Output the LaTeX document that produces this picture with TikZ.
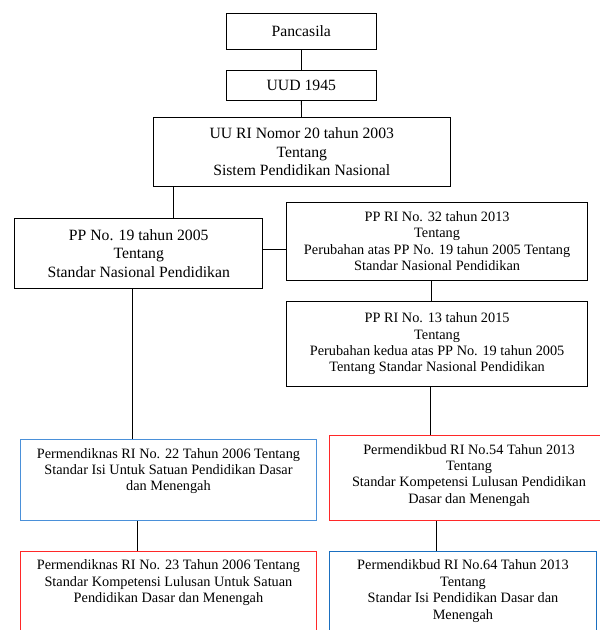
\documentclass[tikz,border=0pt]{standalone}
\usepackage{fontspec}
\setmainfont{Liberation Serif}
\usetikzlibrary{positioning}

\definecolor{kotakbiru}{RGB}{74,144,217}
\definecolor{kotakbirutua}{RGB}{26,111,192}
\definecolor{kotakmerah}{RGB}{255,40,40}

\begin{document}
\begin{tikzpicture}[x=1pt,y=-1pt,
		kotak/.style={draw,line width=0.9pt,anchor=north west,inner sep=0pt,align=center},
		besar/.style={font=\fontsize{15.7}{18.3}\selectfont},
		kecil/.style={font=\fontsize{14.3}{16.4}\selectfont},
		isi/.style={kecil,align=center,inner sep=0pt,below=9pt}]
		\useasboundingbox (0,0) rectangle (600,630);
		\clip (0,0) rectangle (600,630);
		% bagian atas
		\node[kotak,besar,minimum width=150.3,minimum height=36.6] (pancasila) at (225.7,12.7) {Pancasila};
		\node[kotak,besar,minimum width=150.3,minimum height=30] (uud) at (225.7,70) {UUD 1945};
		\node[kotak,besar,minimum width=297.3,minimum height=68.7] (uu) at (152.7,117)
			{UU RI Nomor 20 tahun 2003\\Tentang\\Sistem Pendidikan Nasional};
		\node[kotak,besar,minimum width=248,minimum height=70.6] (pp19) at (14.3,217.7)
			{PP No. 19 tahun 2005\\Tentang\\Standar Nasional Pendidikan};
		\node[kotak,kecil,minimum width=301.3,minimum height=78.3] (pp32) at (286,201.7)
			{PP RI No. 32 tahun 2013\\Tentang\\Perubahan atas PP No. 19 tahun 2005 Tentang\\Standar Nasional Pendidikan};
		\node[kotak,kecil,minimum width=301.3,minimum height=85] (pp13) at (286,301)
			{PP RI No. 13 tahun 2015\\Tentang\\Perubahan kedua atas PP No. 19 tahun 2005\\Tentang Standar Nasional Pendidikan};
		% permen
		\node[kotak,draw=kotakbiru,minimum width=296,minimum height=81] (isi06) at (20,439) {};
		\node[isi] (isi06t) at (isi06.north) {Permendiknas RI No. 22 Tahun 2006 Tentang\\Standar Isi Untuk Satuan Pendidikan Dasar\\dan Menengah};
		\node[kotak,draw=kotakmerah,minimum width=296,minimum height=110] (skl06) at (20,550.7) {};
		\node[isi] (skl06t) at (skl06.north) {Permendiknas RI No. 23 Tahun 2006 Tentang\\Standar Kompetensi Lulusan Untuk Satuan\\Pendidikan Dasar dan Menengah};
		\node[kotak,draw=kotakmerah,minimum width=290,minimum height=85] (skl13) at (329.3,435) {};
		\node[isi] (skl13t) at (skl13.north -| 469,0) {Permendikbud RI No.54 Tahun 2013\\Tentang\\Standar Kompetensi Lulusan Pendidikan\\Dasar dan Menengah};
		\node[kotak,draw=kotakbirutua,minimum width=266.4,minimum height=110] (isi13) at (329.3,550.7) {};
		\node[isi] (isi13t) at (isi13.north) {Permendikbud RI No.64 Tahun 2013\\Tentang\\Standar Isi Pendidikan Dasar dan\\Menengah};
		% garis penghubung
		\path[draw,line width=0.9pt]
		(pancasila) edge (uud)
		(uud) edge (uu)
		([xshift=20.6]uu.south west) edge ([xshift=20.6]uu.south west |- pp19.north)
		([yshift=4.3]pp19.east) edge ([yshift=4.3]pp19.east -| pp32.west)
		([xshift=-6]pp32.south) edge ([xshift=-6]pp32.south |- pp13.north)
		([xshift=-6.6]pp19.south) edge ([xshift=-6.6]pp19.south |- isi06.north)
		([xshift=-31.3]isi06.south) edge ([xshift=-31.3]isi06.south |- skl06.north)
		([xshift=-6.7]pp13.south) edge ([xshift=-6.7]pp13.south |- skl13.north)
		([xshift=107.4]skl13.south west) edge ([xshift=107.4]skl13.south west |- isi13.north);
	\end{tikzpicture}
\end{document}
